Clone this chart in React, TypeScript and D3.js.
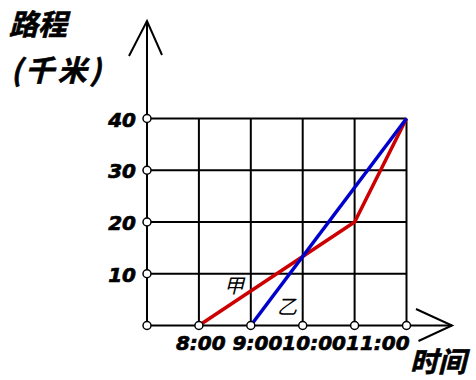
import React from "react";
import * as d3 from "d3";

const xTicks = [8, 9, 10, 11, 12];
const xTickLabels = ["8:00", "9:00", "10:00", "11:00"];
const yTicks = [0, 10, 20, 30, 40];
const yTickLabels = ["10", "20", "30", "40"];
const yLabelValues = [10, 20, 30, 40];

const jiaHours = [8, 11, 12];
const jiaKm = [0, 20, 40];
const yiHours = [9, 12];
const yiKm = [0, 40];

const W = 476;
const H = 380;

export default function App() {
  const x = d3.scaleLinear().domain([7, 12]).range([147, 406.5]);
  const y = d3.scaleLinear().domain([0, 40]).range([325.5, 118.5]);
  const line = d3
    .line<[number, number]>()
    .x((d) => x(d[0]))
    .y((d) => y(d[1]));
  const jia = jiaHours.map((h, i) => [h, jiaKm[i]] as [number, number]);
  const yi = yiHours.map((h, i) => [h, yiKm[i]] as [number, number]);

  const x0 = x(7);
  const y0 = y(0);
  const xMax = x(12);
  const yMax = y(40);

  const numFont = "'DejaVu Sans', Verdana, sans-serif";
  const cjkFont = "'Noto Sans CJK SC', 'Noto Sans', sans-serif";

  return (
    <svg
      width={W}
      height={H}
      style={{ position: "absolute", left: 0, top: 0, background: "#fff" }}
    >
      {/* grid */}
      <g stroke="#000" strokeWidth={2} fill="none">
        {xTicks.map((t) => (
          <line key={"vx" + t} x1={x(t)} x2={x(t)} y1={y0} y2={yMax} />
        ))}
        {yTicks
          .filter((t) => t > 0)
          .map((t) => (
            <line key={"hy" + t} x1={x0} x2={xMax} y1={y(t)} y2={y(t)} />
          ))}
        {/* axes */}
        <line x1={x0} x2={x0} y1={y0} y2={21} />
        <line x1={x0} x2={452} y1={y0} y2={y0} />
        {/* arrowheads */}
        <polyline points={`${x0 - 18},56 ${x0},21 ${x0 + 15},55`} />
        <polyline points={`416,309 452,${y0} 418.5,341`} />
      </g>

      {/* data lines */}
      <path d={line(jia) || ""} fill="none" stroke="#cc0000" strokeWidth={3.5} strokeLinejoin="miter" />
      <path d={line(yi) || ""} fill="none" stroke="#0000cc" strokeWidth={3.5} />

      {/* dots */}
      <g fill="#fff" stroke="#000" strokeWidth={1.5}>
        {yTicks.map((t) => (
          <circle key={"dy" + t} cx={x0} cy={y(t)} r={4} />
        ))}
        {xTicks.map((t) => (
          <circle key={"dx" + t} cx={x(t)} cy={y0} r={4} />
        ))}
      </g>

      {/* y tick labels */}
      <g
        fontFamily={numFont}
        fontWeight="bold"
        fontStyle="italic"
        fontSize={20}
        textAnchor="end"
        fill="#000"
        stroke="#000"
        strokeWidth={0.7}
      >
        {yTickLabels.map((lbl, i) => (
          <text key={lbl} x={x0 - 11} y={y(yLabelValues[i]) + 8}>
            {lbl}
          </text>
        ))}
      </g>

      {/* x tick labels */}
      <text
        x={x(xTicks[0]) - 23}
        y={y0 + 24.5}
        fontFamily={numFont}
        fontWeight="bold"
        fontStyle="italic"
        fontSize={20}
        fill="#000"
        stroke="#000"
        strokeWidth={0.7}
        style={{ whiteSpace: "pre" }}
      >
        {xTickLabels.map((lbl, i) => (
          <tspan key={lbl}>{i === 0 ? lbl + " " : lbl}</tspan>
        ))}
      </text>

      {/* axis titles */}
      <g
        fontFamily={cjkFont}
        fontWeight="bold"
        fontStyle="italic"
        fill="#000"
        stroke="#000"
        strokeWidth={0.6}
        fontSize={29}
      >
        <text x={9} y={35}>路程</text>
        <text x={11} y={81} textLength={90} lengthAdjust="spacing">(千米)</text>
        <text x={410} y={372} fontSize={28}>时间</text>
      </g>

      {/* series labels */}
      <g fontFamily={cjkFont} fontStyle="italic" fontSize={20} fill="#000">
        <text x={224} y={293}>甲</text>
        <text x={277} y={314}>乙</text>
      </g>
    </svg>
  );
}
